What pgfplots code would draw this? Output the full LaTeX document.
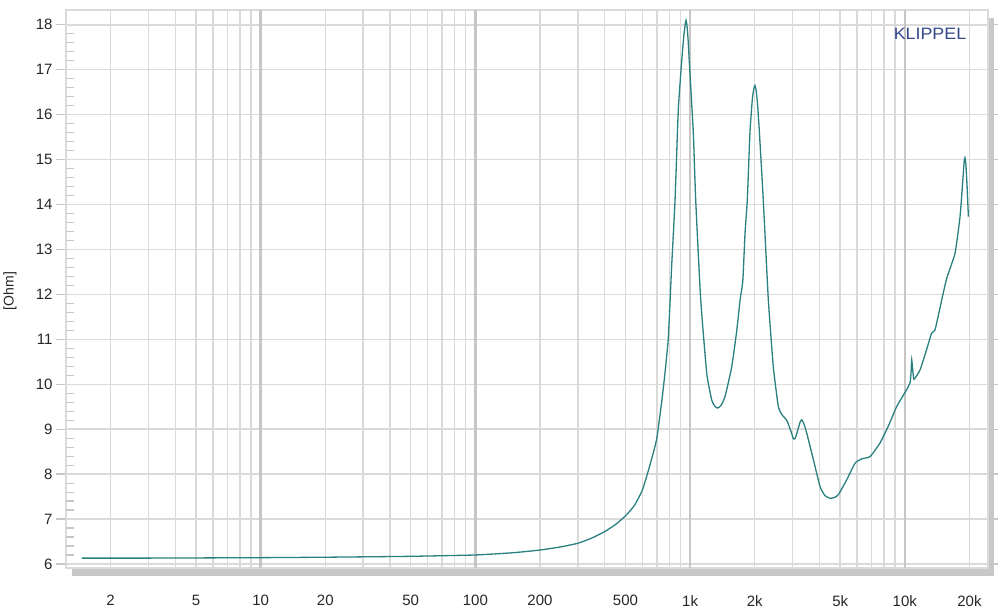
\documentclass[border=0pt]{standalone}
\usepackage{pgfplots}
\pgfplotsset{compat=1.18}
\usepackage{fontspec}
\setmainfont{Liberation Sans}
\definecolor{curve}{RGB}{42,128,128}
\definecolor{gridminor}{RGB}{218,218,218}
\definecolor{gridmajor}{RGB}{198,198,198}
\definecolor{shadowc}{RGB}{200,200,200}
\definecolor{klippel}{RGB}{52,70,140}
\begin{document}
\begin{tikzpicture}
\fill[shadowc] (6pt,-8pt) rectangle (928pt,550pt);
\begin{axis}[
  scale only axis, width=922pt, height=558pt,
  xmode=log, xmin=1.24, xmax=24400, ymin=5.91, ymax=18.33,
  axis background/.style={fill=white},
  axis line style={draw=gridminor, line width=1.2pt},
  /pgf/number format/assume math mode=true,
  ticklabel style={font=\fontsize{15}{18}\selectfont, text=black!85},
  xtick={2,5,10,20,50,100,200,500,1000,2000,5000,10000,20000},
  xticklabels={2,5,10,20,50,100,200,500,1k,2k,5k,10k,20k},
  minor xtick={3,4,6,7,8,9,30,40,60,70,80,90,300,400,600,700,800,900,3000,4000,6000,7000,8000,9000},
  extra x ticks={10,100,1000,10000},
  extra x tick labels={},
  extra x tick style={major grid style={draw=gridmajor, line width=2.4pt}},
  xtick style={draw=none},
  xticklabel style={yshift=-14pt},
  ytick={6,7,8,9,10,11,12,13,14,15,16,17,18},
  minor y tick num=0,
  tick align=outside, major tick length=10pt,
  ytick style={draw=gridmajor, line width=1.2pt},
  xmajorgrids, xminorgrids, ymajorgrids,
  major grid style={draw=gridminor, line width=1.4pt},
  minor grid style={draw=gridminor, line width=1.4pt},
]
\addplot[curve, line width=1.3pt, smooth, tension=0.3] coordinates {
(1.47,6.13) (3,6.13) (10,6.14) (20,6.15) (50,6.17) (100,6.2) (150,6.25)
(200,6.31) (250,6.38) (300,6.46) (350,6.58) (400,6.72) (450,6.88) (500,7.07) (550,7.30)
(600,7.65) (650,8.2) (700,8.8) (750,9.9) (791,11.0) (820,12.6) (851,14.1)
(881,16.1) (914,17.2) (935,17.75) (948,18.0) (957,18.1) (966,18.0) (978,17.7)
(991,17.2) (1035,15.6) (1062,14.1) (1120,11.9) (1195,10.25) (1261,9.65)
(1300,9.52) (1340,9.47) (1390,9.52) (1455,9.73) (1563,10.39) (1650,11.2) (1710,11.88)
(1760,12.3) (1803,13.37) (1847,14.1) (1900,15.6) (1950,16.35) (1985,16.6)
(2005,16.65) (2030,16.55) (2060,16.25) (2099,15.67) (2192,14.1) (2314,11.88)
(2441,10.39) (2577,9.5) (2700,9.3) (2819,9.2) (2950,8.95) (3030,8.78)
(3090,8.80) (3137,8.9) (3250,9.15) (3311,9.21) (3400,9.1) (3494,8.91)
(3752,8.32) (4030,7.72) (4250,7.52) (4490,7.46) (4700,7.48) (4900,7.54)
(5360,7.87) (5860,8.24) (6300,8.34) (6890,8.39) (7660,8.69) (8400,9.08)
(9160,9.5) (10200,9.88) (10600,10.05) (10700,10.3) (10770,10.54) (10900,10.3)
(11040,10.11) (11780,10.32) (12500,10.7) (13340,11.14) (13830,11.21)
(14860,11.88) (15680,12.36) (17140,12.92) (18080,13.73) (18600,14.5)
(18900,14.95) (19050,15.04) (19250,14.9) (19500,14.4) (19780,13.73)
};
\end{axis}
\begin{axis}[
  scale only axis, width=922pt, height=558pt,
  xmin=0, xmax=1, ymin=5.91, ymax=18.33,
  hide x axis, axis y line*=left,
  axis line style={draw=none},
  ytick={6,7,8,9,10,11,12,13,14,15,16,17,18}, yticklabels={},
  minor y tick num=4, tick align=inside,
  major tick length=0pt, minor tick length=8pt,
  tick style={draw=gridmajor, line width=1.1pt},
]
\end{axis}
\node[font=\fontsize{14}{16}\selectfont, rotate=90, text=black!85] at (-56pt,277pt) {[Ohm]};
\node[font=\fontsize{16.5}{18}\selectfont, text=klippel, xscale=1.08] at (864pt,534pt) {KLIPPEL};
\pgfresetboundingbox
\path[use as bounding box] (-66pt,-41pt) rectangle (939pt,568pt);
\end{tikzpicture}
\end{document}
